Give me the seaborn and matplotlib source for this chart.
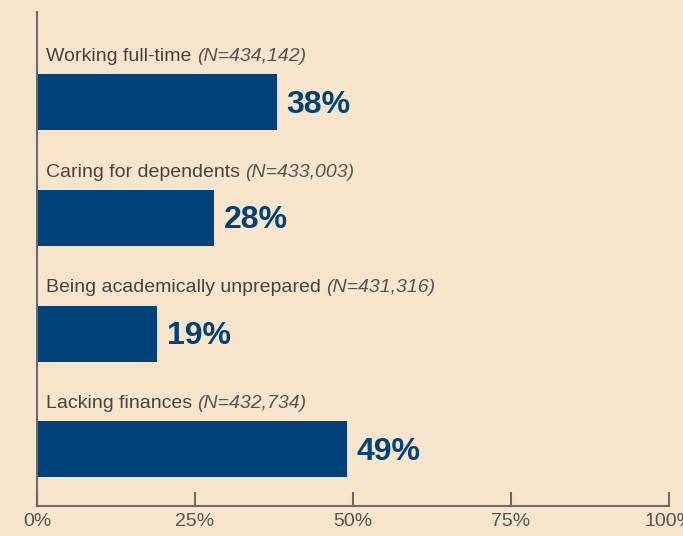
import numpy as np
import pandas as pd
import matplotlib
matplotlib.use('Agg')
import matplotlib.pyplot as plt
import seaborn as sns

causas = ['Working full-time', 'Caring for dependents',
          'Being academically unprepared', 'Lacking finances']
muestras = ['(N=434,142)', '(N=433,003)', '(N=431,316)', '(N=432,734)']
porcentajes = [38, 28, 19, 49]
ticks = [0, 25, 50, 75, 100]
tick_labels = ['0%', '25%', '50%', '75%', '100%']

fondo = '#F7E6CC'
azul = '#004279'
gris = '#6A6A6A'

sns.set_style('white')
plt.rcParams['font.family'] = ['Liberation Sans', 'DejaVu Sans']

df = pd.DataFrame({'causa': causas, 'pct': porcentajes})

fig = plt.figure(figsize=(6.83, 5.36), dpi=100, facecolor=fondo)
ax = fig.add_axes([37 / 683, 30 / 536, 632 / 683, 494 / 536])
ax.set_facecolor(fondo)

alto = 0.485
sns.barplot(data=df, x='pct', y='causa', orient='h', color=azul,
            width=alto, saturation=1, linewidth=0, ax=ax)

for i, (c, n, p) in enumerate(zip(causas, muestras, porcentajes)):
    t = ax.text(1.4, i - alto / 2 - 0.08, c + ' ', fontsize=14, color='#444444',
                va='bottom', ha='left')
    ax.annotate(n, xy=(1, 0), xycoords=t, fontsize=14, color='#555555',
                style='italic', va='bottom', ha='left')
    ax.text(p + 1.5, i + 0.02, f'{p}%', fontsize=23, fontweight='bold',
            color=azul, va='center', ha='left')

ax.set_xlim(0, 100)
ax.set_ylim(3.49, -0.78)
ax.set_xticks(ticks)
ax.set_xticklabels(tick_labels)
ax.set_yticks([])
ax.set_xlabel('')
ax.set_ylabel('')
ax.tick_params(axis='x', direction='in', length=10, width=1.5, color=gris,
               labelsize=14, labelcolor='#555555', pad=5, bottom=True)

for lado in ['top', 'right']:
    ax.spines[lado].set_visible(False)
for lado in ['left', 'bottom']:
    ax.spines[lado].set_color(gris)
    ax.spines[lado].set_linewidth(1.5)

fig.savefig('out.png', dpi=100, facecolor=fondo)
